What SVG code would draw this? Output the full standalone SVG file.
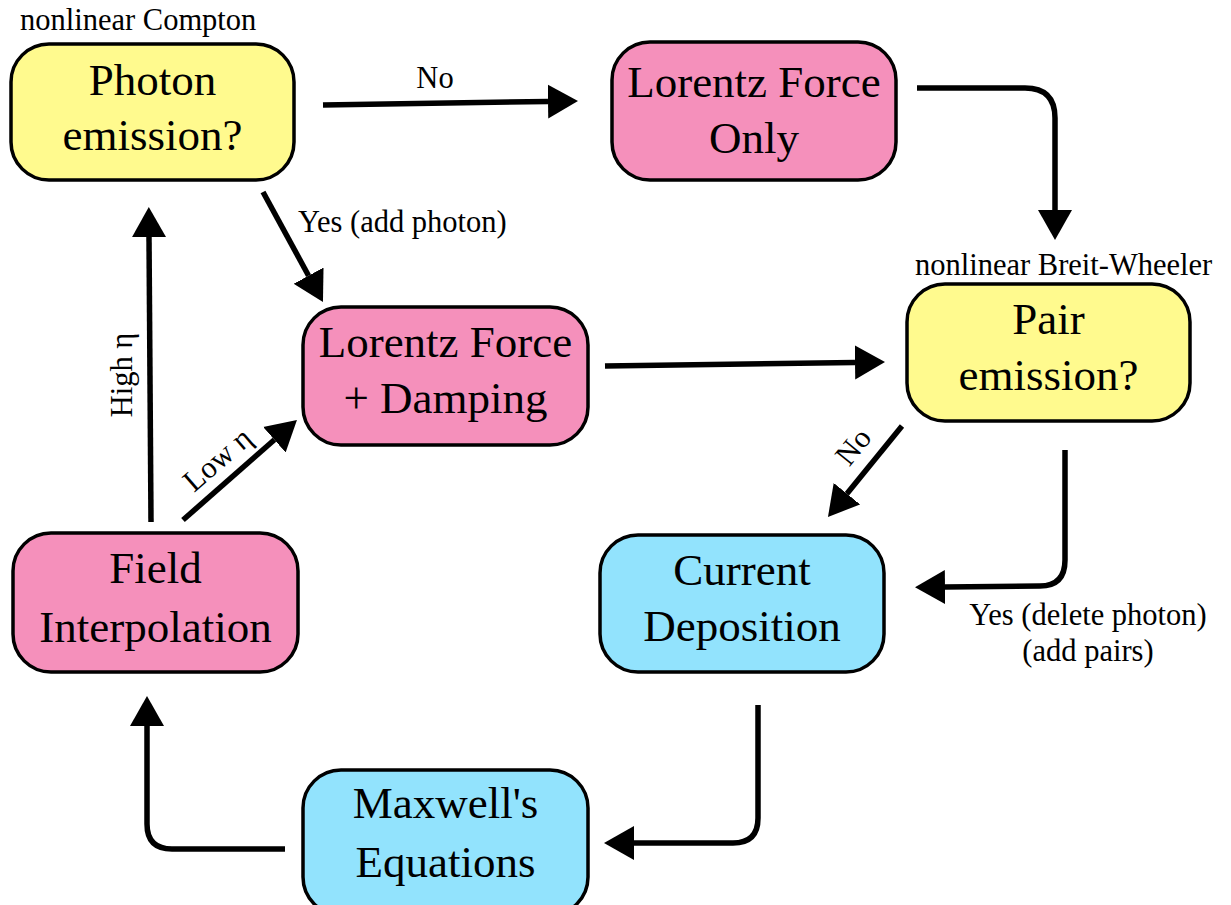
<svg xmlns="http://www.w3.org/2000/svg" width="1231" height="905" viewBox="0 0 1231 905">
<style>
.box{stroke:#000;stroke-width:3.5}
.y{fill:#fffa8e}
.p{fill:#f590bb}
.b{fill:#92e3fd}
.t{font-family:"Liberation Serif","Times New Roman",serif;font-size:45px;fill:#000;text-anchor:middle}
.s{font-family:"Liberation Serif","Times New Roman",serif;font-size:30.5px;fill:#000}
.c{fill:none;stroke:#000;stroke-width:5.5;marker-end:url(#ah)}
</style>
<defs>
<marker id="ah" markerUnits="userSpaceOnUse" markerWidth="32" markerHeight="36" viewBox="0 -18 32 36" refX="0" refY="0" orient="auto">
<path d="M0,-17 L30,0 L0,17 Z" fill="#000"/>
</marker>
</defs>
<rect width="1231" height="905" fill="#fff"/>
<g id="connectors">
<path class="c" d="M323,105 L548,101.5"/>
<path class="c" d="M263,192 L308.6,275.7"/>
<path class="c" d="M151,522 L149,237"/>
<path class="c" d="M183,520 L274.4,439.8"/>
<path class="c" d="M605,366 L855,362.4"/>
<path class="c" d="M917,88 L1025,88 Q1055,88 1055,118 L1055,210"/>
<path class="c" d="M902,426 L846.9,493.7"/>
<path class="c" d="M1065,450 L1065,560 Q1065,586 1040,586 L945,587"/>
<path class="c" d="M758,705 L758,818 Q758,843 733,843 L634,843"/>
<path class="c" d="M285,849 L172,849 Q147,849 147,824 L147,726"/>
<text class="s" x="435" y="88" text-anchor="middle">No</text>
<text class="s" x="298" y="232">Yes (add photon)</text>
<text class="s" transform="translate(132,375) rotate(-90)" text-anchor="middle">High η</text>
<text class="s" transform="translate(224,467) rotate(-41)" text-anchor="middle">Low η</text>
<text class="s" transform="translate(861,453) rotate(-51)" text-anchor="middle">No</text>
<text class="s" x="1088" y="625" text-anchor="middle">Yes (delete photon)</text>
<text class="s" x="1088" y="661" text-anchor="middle">(add pairs)</text>
</g>
<g id="photon">
<text class="s" x="20" y="30">nonlinear Compton</text>
<rect class="box y" x="11" y="44" width="283" height="136" rx="38"/>
<text class="t" x="152.5" y="95">Photon</text>
<text class="t" x="152.5" y="150">emission?</text>
</g>
<g id="lorentz-only">
<rect class="box p" x="612" y="42" width="284" height="138" rx="38"/>
<text class="t" x="754" y="97">Lorentz Force</text>
<text class="t" x="754" y="153">Only</text>
</g>
<g id="lorentz-damping">
<rect class="box p" x="303" y="307" width="285" height="138" rx="38"/>
<text class="t" x="445.5" y="357">Lorentz Force</text>
<text class="t" x="445.5" y="413">+ Damping</text>
</g>
<g id="pair">
<text class="s" x="915" y="275">nonlinear Breit-Wheeler</text>
<rect class="box y" x="907" y="284" width="283" height="137" rx="38"/>
<text class="t" x="1048.5" y="334">Pair</text>
<text class="t" x="1048.5" y="390">emission?</text>
</g>
<g id="current">
<rect class="box b" x="600" y="535" width="284" height="137" rx="38"/>
<text class="t" x="742" y="585">Current</text>
<text class="t" x="742" y="641">Deposition</text>
</g>
<g id="field">
<rect class="box p" x="13" y="533" width="285" height="139" rx="38"/>
<text class="t" x="155.5" y="583">Field</text>
<text class="t" x="155.5" y="642">Interpolation</text>
</g>
<g id="maxwell">
<rect class="box b" x="303" y="770" width="285" height="145" rx="38"/>
<text class="t" x="445.5" y="818">Maxwell's</text>
<text class="t" x="445.5" y="877">Equations</text>
</g>
</svg>
